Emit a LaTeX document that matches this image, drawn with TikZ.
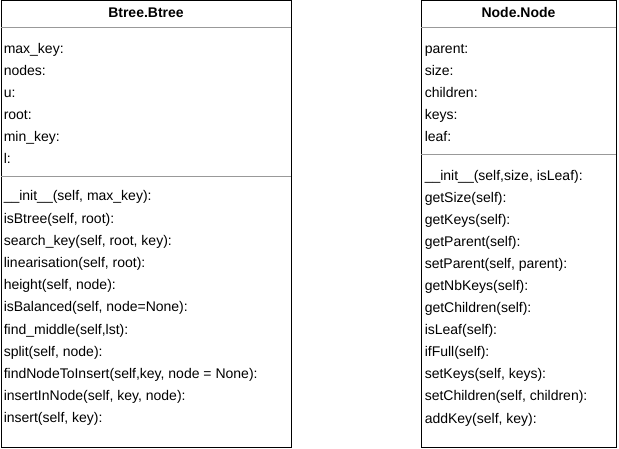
\documentclass[tikz,border=0pt]{standalone}
\usepackage{fontspec}
\setmainfont{Liberation Sans}
\begin{document}
\begin{tikzpicture}[x=0.75pt,y=-0.75pt,
  txt/.style={anchor=base west,inner sep=0pt,font=\fontsize{10.5}{12}\selectfont,text=black},
  ttl/.style={anchor=base,inner sep=0pt,font=\fontsize{10.5}{12}\selectfont\bfseries,text=black},
  frame/.style={draw=black,line width=0.75pt},
  sep/.style={draw=black!40,line width=0.75pt}]
\useasboundingbox (0,0) rectangle (619,449);
% boxes
\coordinate (LA) at (1,1); \coordinate (LB) at (291,448);
\coordinate (RA) at (421,1); \coordinate (RB) at (616,448);
\draw[frame,fill=white] (LA) rectangle (LB);
\draw[frame,fill=white] (RA) rectangle (RB);
% separators
\coordinate (l1a) at (1,28); \coordinate (l1b) at (291,28);
\coordinate (l2a) at (1,177); \coordinate (l2b) at (291,177);
\coordinate (r1a) at (421,28); \coordinate (r1b) at (616,28);
\coordinate (r2a) at (421,155); \coordinate (r2b) at (616,155);
\draw[sep] (l1a) -- (l1b);
\draw[sep] (l2a) -- (l2b);
\draw[sep] (r1a) -- (r1b);
\draw[sep] (r2a) -- (r2b);
% titles
\node[ttl] (tbtree) at (146,18) {Btree.Btree};
\node[ttl] (tnode) at (518.5,18) {Node.Node};
% left attributes
\foreach \t [count=\i from 0] in {max\_key:,nodes:,u:,root:,min\_key:,l:}
  \node[txt] (la\i) at (3.5,53.5+22.1*\i) {\t};
% left methods
\foreach \t [count=\i from 0] in {\_\_init\_\_(self{,} max\_key):,isBtree(self{,} root):,search\_key(self{,} root{,} key):,linearisation(self{,} root):,height(self{,} node):,isBalanced(self{,} node=None):,find\_middle(self{,}lst):,split(self{,} node):,findNodeToInsert(self{,}key{,} node = None):,insertInNode(self{,} key{,} node):,insert(self{,} key):}
  \node[txt] (lm\i) at (3.5,200.8+22.22*\i) {\t};
% right attributes
\foreach \t [count=\i from 0] in {parent:,size:,children:,keys:,leaf:}
  \node[txt] (ra\i) at (424.5,53.5+21.9*\i) {\t};
% right methods
\foreach \t [count=\i from 0] in {\_\_init\_\_(self{,}size{,} isLeaf):,getSize(self):,getKeys(self):,getParent(self):,setParent(self{,} parent):,getNbKeys(self):,getChildren(self):,isLeaf(self):,ifFull(self):,setKeys(self{,} keys):,setChildren(self{,} children):,addKey(self{,} key):}
  \node[txt] (rm\i) at (424.5,180.8+22.02*\i) {\t};
\end{tikzpicture}
\end{document}
